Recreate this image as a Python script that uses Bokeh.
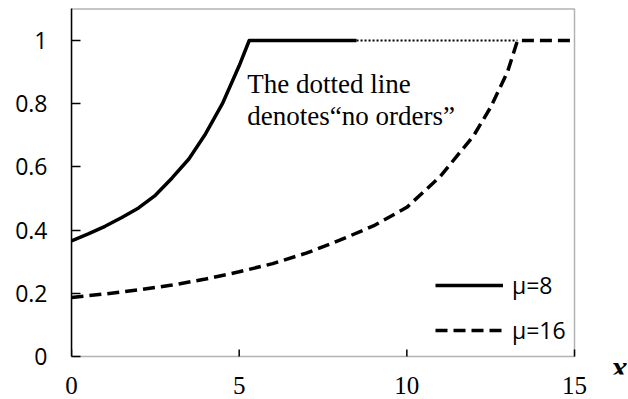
import math
from bokeh.plotting import figure
from bokeh.models import Range1d, FixedTicker, Legend, LegendItem, Label, BoxAnnotation
from bokeh.embed import file_html
from bokeh.resources import INLINE

# ---- data ----
mu8_x = [0, 0.5, 1, 1.5, 2, 2.5, 3, 3.5, 4, 4.5, 5, 5.3, 8.5]
mu8_y = [0.366, 0.388, 0.412, 0.44, 0.47, 0.51, 0.565, 0.625, 0.705, 0.80, 0.92, 1.0, 1.0]

no_orders_x = [8.5, 13.3]
no_orders_y = [1.0, 1.0]

mu16_x = [0, 1, 2, 3, 4, 5, 6, 7, 8, 9, 10, 11, 12, 12.5, 13, 13.3, 15]
mu16_y = [0.187, 0.198, 0.211, 0.226, 0.245, 0.268, 0.294, 0.327, 0.368, 0.413,
          0.472, 0.57, 0.70, 0.789, 0.90, 1.0, 1.0]

x_ticks = [0, 5, 10, 15]
x_tick_base = [0, 0, 0, 0]
y_ticks = [0, 0.2, 0.4, 0.6, 0.8, 1.0]
y_tick_labels = ["0", "0.2", "0.4", "0.6", "0.8", "1"]
series_labels = ["μ=8", "μ=16"]
note_lines = ["The dotted line", "denotes“no orders”"]
x_axis_name = "x"

X_MIN, X_MAX = 0, 15
Y_MIN, Y_MAX = 0, 1.1

SERIF = "Liberation Serif"
SANS = "Open Sans"

# frame a bit larger than the axes box so the axis name "x" can sit outside the box
p = figure(width=628, height=399, x_range=Range1d(0, 16.61), y_range=Range1d(-0.057, 1.1076),
           output_backend="svg", toolbar_location=None,
           min_border_left=71, min_border_right=0, min_border_top=6, min_border_bottom=25)

p.grid.visible = False
p.outline_line_color = None
p.background_fill_color = "white"
p.border_fill_color = "white"

# axes box
p.add_layout(BoxAnnotation(left=X_MIN, right=X_MAX, bottom=Y_MIN, top=Y_MAX,
                           fill_alpha=0, line_color="black", line_width=1.5))

# x axis: labels only (line and ticks come from the box and the rays)
xa = p.xaxis[0]
xa.ticker = FixedTicker(ticks=x_ticks)
xa.axis_line_color = None
xa.major_tick_line_color = None
xa.minor_tick_line_color = None
xa.major_label_text_font = SERIF
xa.major_label_text_font_size = "25px"
xa.major_label_text_color = "black"
xa.major_label_standoff = -4

p.ray(x=x_ticks, y=x_tick_base, length=7, length_units="screen", angle=math.pi / 2,
      line_color="black", line_width=1.5)

ya = p.yaxis[0]
ya.ticker = FixedTicker(ticks=y_ticks)
ya.bounds = (Y_MIN, Y_MAX)
ya.major_label_overrides = {t: s for t, s in zip(y_ticks, y_tick_labels)}
ya.axis_line_color = "black"
ya.axis_line_width = 1.5
ya.major_tick_line_color = "black"
ya.major_tick_line_width = 1.5
ya.major_tick_in = 9
ya.major_tick_out = 0
ya.minor_tick_line_color = None
ya.major_label_text_font = SANS
ya.major_label_text_font_size = "23px"
ya.major_label_text_color = "black"
ya.major_label_standoff = 24

# lines
r8 = p.line(mu8_x, mu8_y, line_color="black", line_width=3.5, line_join="round")
p.line(no_orders_x, no_orders_y, line_color="black", line_width=2, line_dash="2 2")
r16 = p.line(mu16_x, mu16_y, line_color="black", line_width=3.5, line_dash="12 6",
             line_join="round")

legend = Legend(items=[LegendItem(label=series_labels[0], renderers=[r8]),
                       LegendItem(label=series_labels[1], renderers=[r16])],
                location=(364, 28), orientation="vertical",
                glyph_width=68, glyph_height=30, label_height=30, spacing=13,
                label_standoff=9, padding=0, margin=0,
                border_line_alpha=0, background_fill_alpha=0,
                label_text_font=SANS, label_text_font_size="23px",
                label_text_color="black")
p.add_layout(legend, "center")

# annotation text
p.add_layout(Label(x=5.24, y=0.862, text=note_lines[0], text_font=SERIF,
                   text_font_size="27px", text_color="black", text_baseline="alphabetic"))
p.add_layout(Label(x=5.24, y=0.761, text=note_lines[1], text_font=SERIF,
                   text_font_size="27px", text_color="black", text_baseline="alphabetic"))

# axis name "x" to the right of the x axis
p.add_layout(Label(x=16.1, y=-0.032, text=x_axis_name, text_font=SERIF,
                   text_font_size="32px", text_font_style="bold italic",
                   text_color="black", text_baseline="middle"))

open("out.html", "w").write(file_html(p, INLINE))
